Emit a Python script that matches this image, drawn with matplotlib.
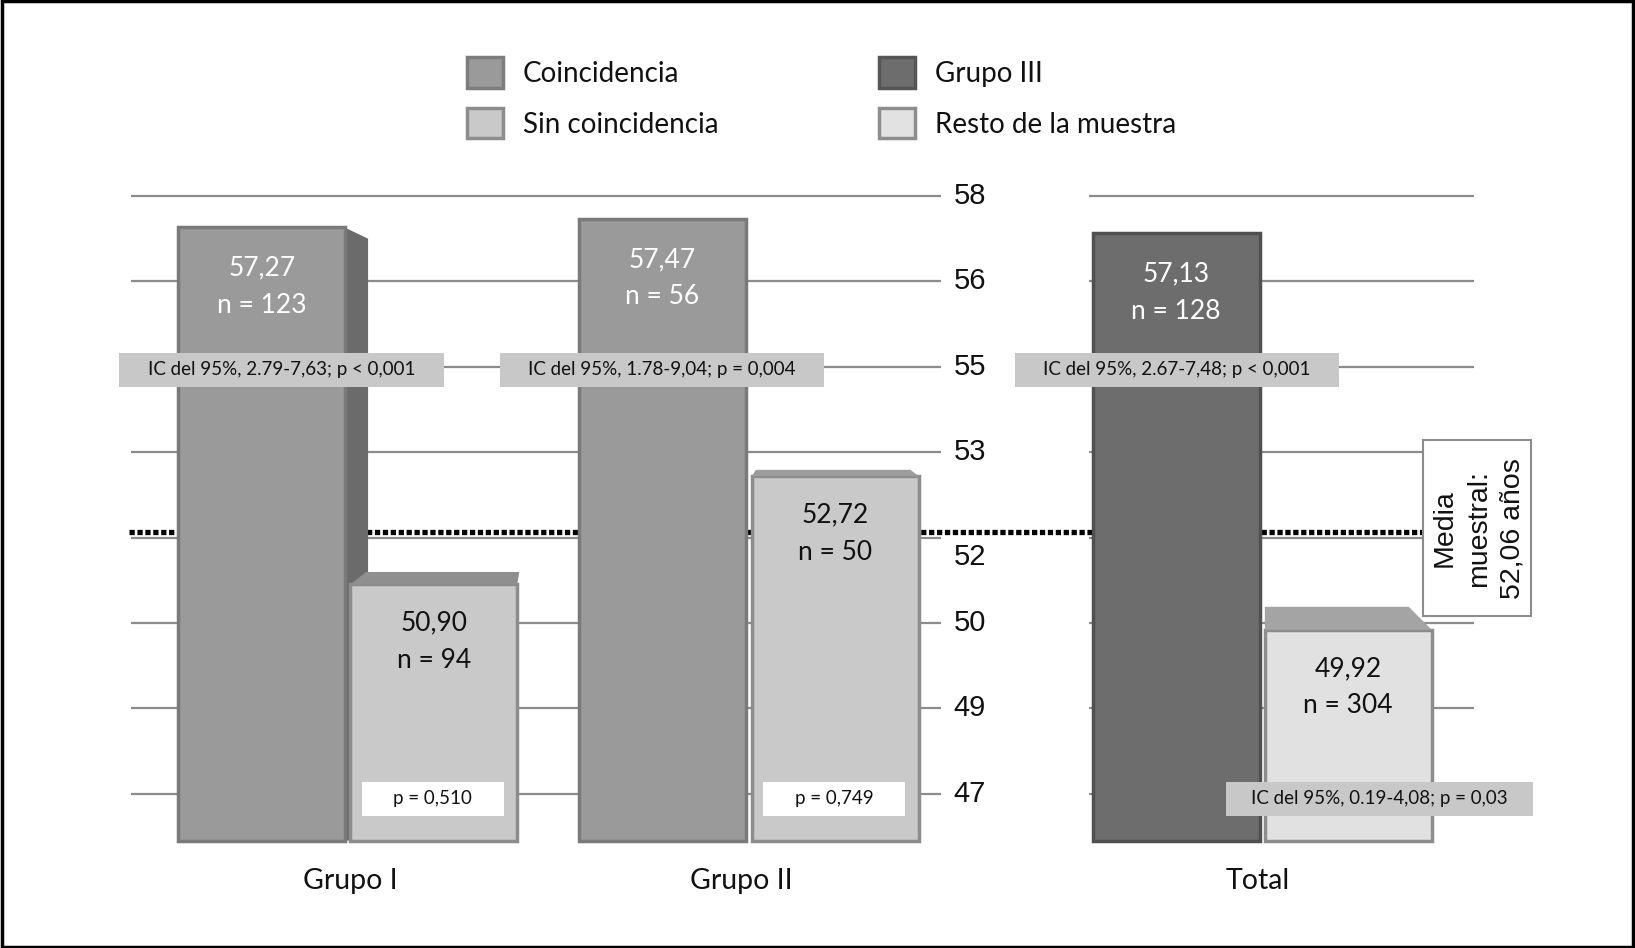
import numpy as np
import matplotlib
matplotlib.use("Agg")
import matplotlib.pyplot as plt
from matplotlib.patches import Rectangle, Polygon, Patch

# ---------------- data ----------------
groups = ["Grupo I", "Grupo II", "Total"]
main_vals = [57.27, 57.47, 57.13]
main_n = [123, 56, 128]
other_vals = [50.90, 52.72, 49.92]
other_n = [94, 50, 304]
ci_texts = ["IC del 95%, 2.79-7,63; p < 0,001",
            "IC del 95%, 1.78-9,04; p = 0,004",
            "IC del 95%, 2.67-7,48; p < 0,001"]
p_texts = ["p = 0,510", "p = 0,749", "IC del 95%, 0.19-4,08; p = 0,03"]
sample_mean = 52.06
mean_text = "Media\nmuestral:\n52,06 años"
yticks = [47, 49, 50, 52, 53, 55, 56, 58]
legend_labels = ["Coincidencia", "Sin coincidencia", "Grupo III", "Resto de la muestra"]

# ---------------- style / layout ----------------
W, H = 1568.0, 909.0          # layout coordinate system (pixels of the design)
GRID_BOTTOM = 761.0           # y of the lowest tick line
SLOT = (761.0 - 188.0) / 7    # distance between tick lines
BAR_BOTTOM = 806.0

main_colors = ["#9a9a9a", "#9a9a9a", "#6d6d6d"]
main_edges = ["#7a7a7a", "#7a7a7a", "#505050"]
other_colors = ["#c9c9c9", "#c9c9c9", "#e1e1e1"]
other_edges = ["#8d8d8d", "#8d8d8d", "#8d8d8d"]
main_x = [251, 635, 1128]
other_x = [416, 801, 1293]
bar_w = 160
group_x = [336, 711, 1206]
ci_x = [270, 635, 1129]
p_x = [415, 800, 1323]
p_w = [136, 136, 295]
p_color = ["white", "white", "#c8c8c8"]

SANS = ["Lato", "DejaVu Sans"]
ARIAL = ["Liberation Sans", "DejaVu Sans"]

# non-linear (slot-based) value axis as in the original graphic
tick_slots = np.arange(len(yticks), dtype=float)
ext_vals = np.concatenate([[yticks[0] - 20], yticks, [yticks[-1] + 20]])
ext_slots = np.concatenate([[-10.0], tick_slots, [tick_slots[-1] + 10.0]])


def forward(v):
    return np.interp(v, ext_vals, ext_slots)


def inverse(s):
    return np.interp(s, ext_slots, ext_vals)


def px_to_val(py):
    return float(inverse((GRID_BOTTOM - py) / SLOT))


def val_to_px(v):
    return GRID_BOTTOM - float(forward(v)) * SLOT


fig = plt.figure(figsize=(16.35, 9.48), dpi=100)
ax = fig.add_axes([0, 0, 1, 1])
ax.set_yscale("function", functions=(forward, inverse))
ax.set_xlim(0, W)
ax.set_ylim(px_to_val(H), px_to_val(0))
ax.axis("off")

bottom_val = px_to_val(BAR_BOTTOM)

# grid lines (two segments)
grid_c = "#8c8c8c"
for t in yticks:
    ax.hlines(t, 126, 902, color=grid_c, lw=1.6, zorder=1)
    ax.hlines(t, 1044, 1414, color=grid_c, lw=1.6, zorder=1)

# tick labels
for t in yticks:
    off = 19 if t == 52 else 0
    ax.text(930, px_to_val(val_to_px(t) + off), str(t), ha="center", va="center",
            fontsize=21, family=ARIAL, color="#111111", zorder=6)

# sample mean dotted line
ax.hlines(sample_mean, 124, 1365, color="black", lw=3.8,
          linestyles=[(0, (1.0, 0.5))], zorder=2)

# 3D side face of first bar
top_px = val_to_px(main_vals[0])
x1 = main_x[0] + bar_w / 2
side = [(x1 - 1, px_to_val(top_px)), (x1 + 22, px_to_val(top_px + 11)),
        (x1 + 22, bottom_val), (x1 - 1, bottom_val)]
ax.add_patch(Polygon(side, closed=True, facecolor="#6b6b6b", edgecolor="none", zorder=3))

# main bars
ax.bar(main_x, np.array(main_vals) - bottom_val, bottom=bottom_val, width=bar_w,
       color=main_colors, edgecolor=main_edges, linewidth=2.5, zorder=4)
# other bars
ax.bar(other_x, np.array(other_vals) - bottom_val, bottom=bottom_val, width=bar_w,
       color=other_colors, edgecolor=other_edges, linewidth=2.5, zorder=4)

# top faces of the second bars
face_specs = [(15, 2, 12, "#8f8f8f"), (4, -8, 6, "#9c9c9c"), (0, -22, 22, "#a4a4a4")]
for xc, v, (dl, dr, dh, fc) in zip(other_x, other_vals, face_specs):
    tp = val_to_px(v)
    xl, xr = xc - bar_w / 2, xc + bar_w / 2
    poly = [(xl, px_to_val(tp)), (xl + dl, px_to_val(tp - dh)),
            (xr + dr, px_to_val(tp - dh)), (xr, px_to_val(tp))]
    ax.add_patch(Polygon(poly, closed=True, facecolor=fc, edgecolor="none", zorder=4.5))


def fmt(v):
    return f"{v:.2f}".replace(".", ",")


# value labels
for xc, v, n in zip(main_x, main_vals, main_n):
    tp = val_to_px(v)
    ax.text(xc, px_to_val(tp + 39), fmt(v), ha="center", va="center", fontsize=19,
            family=SANS, color="white", zorder=6)
    ax.text(xc, px_to_val(tp + 75), f"n = {n}", ha="center", va="center", fontsize=19,
            family=SANS, color="white", zorder=6)
for xc, v, n in zip(other_x, other_vals, other_n):
    tp = val_to_px(v)
    ax.text(xc, px_to_val(tp + 37), fmt(v), ha="center", va="center", fontsize=19,
            family=SANS, color="#111111", zorder=6)
    ax.text(xc, px_to_val(tp + 73), f"n = {n}", ha="center", va="center", fontsize=19,
            family=SANS, color="#111111", zorder=6)

# CI boxes at the 55 line
ci_py = val_to_px(55) + 3
for xc, t in zip(ci_x, ci_texts):
    ax.add_patch(Rectangle((xc - 155.5, px_to_val(ci_py + 16.5)), 311,
                           px_to_val(ci_py - 16.5) - px_to_val(ci_py + 16.5),
                           facecolor="#c8c8c8", edgecolor="none", zorder=5))
    ax.text(xc, px_to_val(ci_py), t, ha="center", va="center", fontsize=13.5,
            family=SANS, color="#111111", zorder=6)

# p boxes near the 47 line
p_py = val_to_px(47) + 5
for xc, w, t, c in zip(p_x, p_w, p_texts, p_color):
    ax.add_patch(Rectangle((xc - w / 2, px_to_val(p_py + 16.5)), w,
                           px_to_val(p_py - 16.5) - px_to_val(p_py + 16.5),
                           facecolor=c, edgecolor="none", zorder=5))
    ax.text(xc, px_to_val(p_py), t, ha="center", va="center", fontsize=13.5,
            family=SANS, color="#111111", zorder=6)

# sample-mean box
mb_top, mb_bot = 422, 591
ax.add_patch(Rectangle((1365, px_to_val(mb_bot)), 103, px_to_val(mb_top) - px_to_val(mb_bot),
                       facecolor="white", edgecolor="#8c8c8c", lw=1.5, zorder=5))
ax.text(1418, px_to_val((mb_top + mb_bot) / 2), mean_text, rotation=90, ha="center",
        va="center", ma="center", fontsize=20.5, family=ARIAL, color="#111111",
        linespacing=1.4, zorder=6)

# group labels
for xc, g in zip(group_x, groups):
    ax.text(xc, px_to_val(845), g, ha="center", va="center", fontsize=20.5,
            family=SANS, color="#111111", zorder=6)

# legend
handles = [Patch(facecolor="#9a9a9a", edgecolor="#7d7d7d", lw=2.5),
           Patch(facecolor="#c9c9c9", edgecolor="#8d8d8d", lw=2.5),
           Patch(facecolor="#6d6d6d", edgecolor="#555555", lw=2.5),
           Patch(facecolor="#e2e2e2", edgecolor="#8d8d8d", lw=2.5)]
leg = ax.legend(handles, legend_labels, ncol=2, loc="upper left",
                bbox_to_anchor=(448 / W, 1 - 55 / H), frameon=False, borderpad=0,
                handlelength=1.3, handleheight=1.3, handletextpad=0.7,
                columnspacing=5.8, labelspacing=0.74, borderaxespad=0,
                prop={"family": SANS, "size": 20})
for t in leg.get_texts():
    t.set_color("#111111")

# outer frame
fig.patches.append(Rectangle((0.001, 0.001), 0.998, 0.998, transform=fig.transFigure,
                             fill=False, edgecolor="black", lw=2.5))

fig.savefig("out.png", dpi=100, facecolor="white")
